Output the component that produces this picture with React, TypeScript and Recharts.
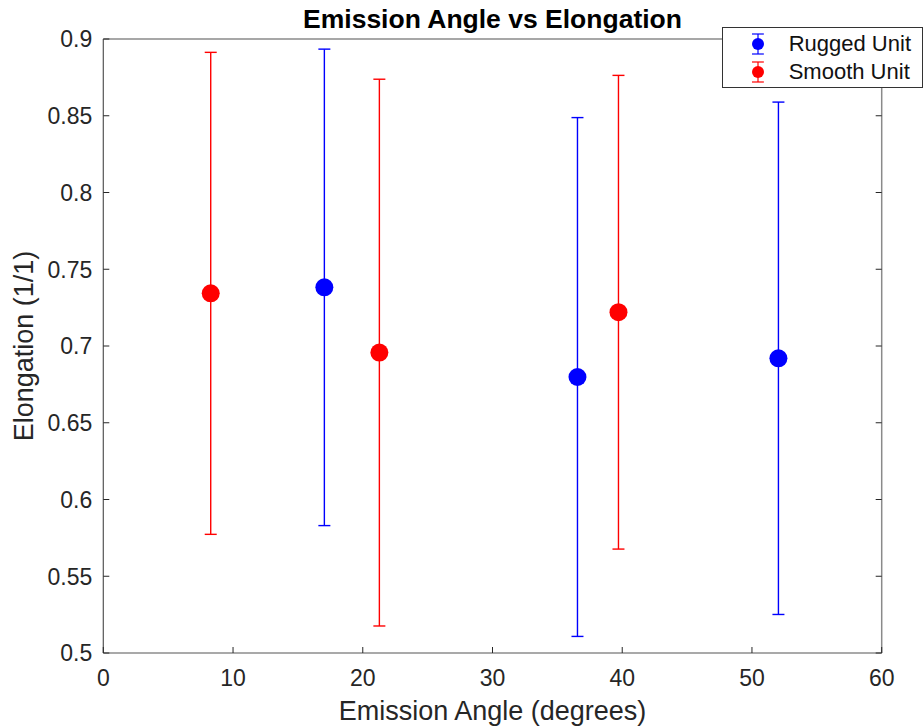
import React from 'react';
import { ScatterChart, Scatter, XAxis, YAxis, ErrorBar, Legend, Label } from 'recharts';

const ruggedX = [17.04, 36.55, 52.04];
const ruggedY = [0.7382, 0.6798, 0.692];
const ruggedErr = [0.1552, 0.169, 0.1669];

const smoothX = [8.28, 21.28, 39.71];
const smoothY = [0.7343, 0.6957, 0.722];
const smoothErr = [0.157, 0.1781, 0.1543];

const xTicks = [0, 10, 20, 30, 40, 50, 60];
const yTicks = [0.5, 0.55, 0.6, 0.65, 0.7, 0.75, 0.8, 0.85, 0.9];

const TITLE = 'Emission Angle vs Elongation';
const X_LABEL = 'Emission Angle (degrees)';
const Y_LABEL = 'Elongation (1/1)';
const SERIES_NAMES = ['Rugged Unit', 'Smooth Unit'];
const BLUE = '#0000ff';
const RED = '#ff0000';

const rugged = ruggedX.map((x, i) => ({ x, y: ruggedY[i], err: ruggedErr[i] }));
const smooth = smoothX.map((x, i) => ({ x, y: smoothY[i], err: smoothErr[i] }));

const TEXT = '#262626';
const TICK_LEN = 6;
const FONT = '"Liberation Sans", Arial, Helvetica, sans-serif';

const fmt = (v: number) => String(+Number(v).toFixed(2));

const BottomTick = (p: any) => {
  const m = 17;
  const y0 = p.y - m;
  return (
    <g>
      <line x1={p.x} x2={p.x} y1={y0} y2={y0 - TICK_LEN} stroke={TEXT} strokeWidth={1} />
      <text x={p.x} y={p.y} dy="0.71em" textAnchor="middle" fill={TEXT} fontSize={23}>
        {fmt(p.payload.value)}
      </text>
    </g>
  );
};

const LeftTick = (p: any) => {
  const m = 11;
  const x0 = p.x + m;
  return (
    <g>
      <line x1={x0} x2={x0 + TICK_LEN} y1={p.y} y2={p.y} stroke={TEXT} strokeWidth={1} />
      <text x={p.x} y={p.y} dy="0.36em" textAnchor="end" fill={TEXT} fontSize={23}>
        {fmt(p.payload.value)}
      </text>
    </g>
  );
};

const TopTick = (p: any) => {
  const m = 2;
  const y0 = p.y + m;
  return <line x1={p.x} x2={p.x} y1={y0} y2={y0 + TICK_LEN} stroke={TEXT} strokeWidth={1} />;
};

const RightTick = (p: any) => {
  const m = 2;
  const x0 = p.x - m;
  return <line x1={x0} x2={x0 - TICK_LEN} y1={p.y} y2={p.y} stroke={TEXT} strokeWidth={1} />;
};

const Dot = (color: string) => (p: any) => <circle cx={p.cx} cy={p.cy} r={9} fill={color} />;

const LegendBox = () => (
  <div
    style={{
      width: 201,
      height: 61,
      boxSizing: 'border-box',
      border: '1px solid #333',
      background: '#fff',
      position: 'relative',
      fontFamily: FONT,
    }}
  >
    {[BLUE, RED].map((c, i) => (
      <div key={i} style={{ position: 'absolute', left: 0, top: i * 28 + 3, height: 26, width: 200 }}>
        <svg width={60} height={26} style={{ position: 'absolute', left: 0, top: 0 }}>
          <line x1={35} x2={35} y1={3} y2={23} stroke={c} strokeWidth={1.2} />
          <line x1={29} x2={41} y1={3} y2={3} stroke={c} strokeWidth={1.2} />
          <line x1={29} x2={41} y1={23} y2={23} stroke={c} strokeWidth={1.2} />
          <circle cx={35} cy={13} r={6} fill={c} />
        </svg>
        <span
          style={{
            position: 'absolute',
            left: 66,
            top: 0,
            lineHeight: '26px',
            fontSize: 22,
            color: '#111',
            whiteSpace: 'nowrap',
          }}
        >
          {SERIES_NAMES[i]}
        </span>
      </div>
    ))}
  </div>
);

export default function App() {
  return (
    <div style={{ position: 'absolute', left: 0, top: 0, width: 923, height: 728, background: '#fff', fontFamily: FONT }}>
      <ScatterChart width={923} height={728} margin={{ top: 29, right: 31.3, bottom: 45, left: 0 }}>
        <XAxis
          xAxisId="bottom"
          dataKey="x"
          type="number"
          domain={[0, 60]}
          ticks={xTicks}
          allowDataOverflow
          height={30}
          tickSize={0}
          tickMargin={17}
          tickLine={false}
          axisLine={{ stroke: '#555', strokeWidth: 1.2 }}
          tick={BottomTick}
          interval={0}
        >
          <Label
            content={(props: any) => {
              const vb = props.viewBox;
              return (
                <text x={vb.x + vb.width / 2} y={720} textAnchor="middle" fill={TEXT} fontSize={27}>
                  {X_LABEL}
                </text>
              );
            }}
          />
        </XAxis>
        <XAxis
          xAxisId="top"
          orientation="top"
          type="number"
          domain={[0, 60]}
          ticks={xTicks}
          allowDataOverflow
          height={10}
          tickSize={0}
          tickMargin={2}
          tickLine={false}
          axisLine={{ stroke: '#8a8a8a', strokeWidth: 1.5 }}
          tick={TopTick}
          interval={0}
        >
          <Label
            content={(props: any) => {
              const vb = props.viewBox;
              return (
                <text x={vb.x + vb.width / 2} y={28} textAnchor="middle" fill="#000" fontSize={26.5} fontWeight="bold">
                  {TITLE}
                </text>
              );
            }}
          />
        </XAxis>
        <YAxis
          yAxisId="left"
          dataKey="y"
          type="number"
          domain={[0.5, 0.9]}
          ticks={yTicks}
          allowDataOverflow
          width={103.3}
          tickSize={0}
          tickMargin={11}
          tickLine={false}
          axisLine={{ stroke: '#555', strokeWidth: 1.2 }}
          tick={LeftTick}
          interval={0}
        >
          <Label
            content={(props: any) => {
              const vb = props.viewBox;
              const cy = vb.y + vb.height / 2;
              return (
                <text transform={`translate(33, ${cy}) rotate(-90)`} textAnchor="middle" fill={TEXT} fontSize={27}>
                  {Y_LABEL}
                </text>
              );
            }}
          />
        </YAxis>
        <YAxis
          yAxisId="right"
          orientation="right"
          type="number"
          domain={[0.5, 0.9]}
          ticks={yTicks}
          allowDataOverflow
          width={10}
          tickSize={0}
          tickMargin={2}
          tickLine={false}
          axisLine={{ stroke: '#8a8a8a', strokeWidth: 1.5 }}
          tick={RightTick}
          interval={0}
        />
        <Legend
          layout="horizontal"
          verticalAlign="middle"
          align="center"
          wrapperStyle={{ left: 721.7, top: 26.7, width: 201, height: 61 }}
          content={() => <LegendBox />}
        />
        <Scatter
          name={SERIES_NAMES[0]}
          data={rugged}
          xAxisId="bottom"
          yAxisId="left"
          fill={BLUE}
          shape={Dot(BLUE)}
          isAnimationActive={false}
        >
          <ErrorBar dataKey="err" direction="y" width={6} stroke={BLUE} strokeWidth={1.4} isAnimationActive={false} />
        </Scatter>
        <Scatter
          name={SERIES_NAMES[1]}
          data={smooth}
          xAxisId="bottom"
          yAxisId="left"
          fill={RED}
          shape={Dot(RED)}
          isAnimationActive={false}
        >
          <ErrorBar dataKey="err" direction="y" width={6} stroke={RED} strokeWidth={1.4} isAnimationActive={false} />
        </Scatter>
      </ScatterChart>
    </div>
  );
}
